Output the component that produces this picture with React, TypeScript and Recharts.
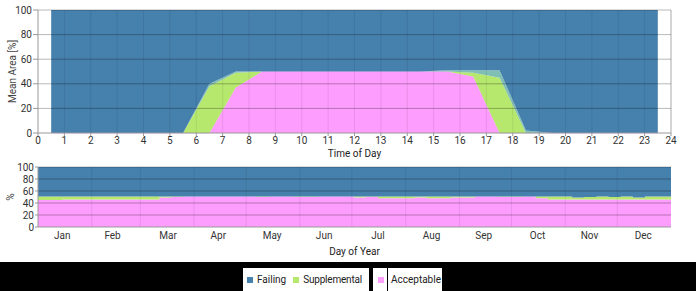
import { AreaChart, Area, XAxis, YAxis, ReferenceLine } from "recharts";

/* ---------------- COLORS ---------------- */

const BLUE = "#4680ad";
const GREEN = "#b6e86e";
const PINK = "#fd9dfd";
const TEAL = "#80bfb4";
const FONT = "Roboto, 'Noto Sans', sans-serif";

/* ---------------- TIME OF DAY DATA ---------------- */

const hours = [
  0.5, 1.5, 2.5, 3.5, 4.5, 5.5, 6.5, 7.5, 8.5, 9.5, 10.5, 11.5,
  12.5, 13.5, 14.5, 15.5, 16.5, 17.5, 18.5, 19.5, 20.5, 21.5, 22.5, 23.5
];
const hourAcceptable = [0, 0, 0, 0, 0, 0, 0, 37, 50, 50, 50, 50, 50, 50, 50, 50, 46, 0, 0, 0, 0, 0, 0, 0];
const hourSupplemental = [0, 0, 0, 0, 0, 0, 38, 12, 0, 0, 0, 0, 0, 0, 0, 0, 3, 45, 0, 0, 0, 0, 0, 0];
const hourOverlap = [0, 0, 0, 0, 0, 0, 2, 1, 0, 0, 0, 0, 0, 0, 0, 1, 2, 6, 2, 0, 0, 0, 0, 0];
const hourFailing = [100, 100, 100, 100, 100, 100, 60, 50, 50, 50, 50, 50, 50, 50, 50, 49, 49, 49, 98, 100, 100, 100, 100, 100];

const hourTicks = [0, 1, 2, 3, 4, 5, 6, 7, 8, 9, 10, 11, 12, 13, 14, 15, 16, 17, 18, 19, 20, 21, 22, 23, 24];
const percentTicks = [0, 20, 40, 60, 80, 100];

/* ---------------- DAY OF YEAR DATA (weekly) ---------------- */

const weekStartDays = [
  0, 7, 14, 21, 28, 35, 42, 49, 56, 63, 70, 77, 84, 91, 98, 105, 112, 119,
  126, 133, 140, 147, 154, 161, 168, 175, 182, 189, 196, 203, 210, 217, 224,
  231, 238, 245, 252, 259, 266, 273, 280, 287, 294, 301, 308, 315, 322, 329,
  336, 343, 350, 357, 365
];
const weekAcceptable = [
  45, 45, 46, 46, 46, 46, 46, 46, 46, 46, 49, 50, 51, 51, 51, 51, 51, 51,
  50, 51, 51, 50, 50, 51, 51, 51, 49, 50, 48, 48, 48, 49, 48, 48, 49, 49,
  51, 51, 50, 50, 51, 48, 46, 46, 46, 46, 46, 46, 46, 46, 46, 46
];
const weekSupplemental = [
  6, 6, 5, 5, 5, 5, 5, 5, 5, 5, 2, 1, 0, 0, 0, 0, 0, 0,
  1, 0, 0, 1, 1, 0, 0, 0, 2, 1, 3, 3, 3, 2, 3, 3, 2, 2,
  0, 0, 1, 1, 0, 3, 5, 5, 3, 4, 5, 4, 5, 3, 5, 5
];
const weekFailing = [
  49, 49, 49, 49, 49, 49, 49, 49, 49, 49, 49, 49, 49, 49, 49, 49, 49, 49,
  49, 49, 49, 49, 49, 49, 49, 49, 49, 49, 49, 49, 49, 49, 49, 49, 49, 49,
  49, 49, 49, 49, 49, 49, 49, 49, 51, 50, 49, 50, 49, 51, 49, 49
];

const monthNames = ["Jan", "Feb", "Mar", "Apr", "May", "Jun", "Jul", "Aug", "Sep", "Oct", "Nov", "Dec"];
const monthMidDays = [14, 43, 75, 104, 135, 165, 196, 227, 257, 288, 318, 349];
const monthStartDays = [31, 59, 90, 120, 151, 181, 212, 243, 273, 304, 334];

/* ---------------- TABLES ---------------- */

const hourData = hours.map((h, i) => ({
  hour: h,
  acceptable: hourAcceptable[i],
  supplemental: hourSupplemental[i],
  overlap: hourOverlap[i],
  failing: hourFailing[i]
}));

const dayData = weekStartDays.map((d, i) => {
  const k = Math.min(i, weekAcceptable.length - 1);
  return {
    day: d,
    acceptable: weekAcceptable[k],
    supplemental: weekSupplemental[k],
    failing: weekFailing[k]
  };
});

const tickStyle = { fontSize: 10, fill: "#333", fontFamily: FONT };

/* ---------------- LEGEND ---------------- */

function Swatch({ color }: { color: string }) {
  return (
    <span
      style={{
        display: "inline-block",
        width: 6,
        height: 6,
        background: color,
        marginRight: 4,
        verticalAlign: "middle"
      }}
    />
  );
}

function Legend() {
  const text = { fontSize: 10, color: "#222", fontFamily: FONT, verticalAlign: "middle", whiteSpace: "nowrap" } as const;
  return (
    <div style={{ position: "relative", width: 696, height: 29, background: "#000" }}>
      <div
        style={{
          position: "absolute", left: 243, top: 6, width: 126, height: 23,
          background: "#fff", display: "flex", alignItems: "center", paddingLeft: 4, boxSizing: "border-box"
        }}
      >
        <Swatch color={BLUE} />
        <span style={{ ...text, marginRight: 7 }}>Failing</span>
        <Swatch color={GREEN} />
        <span style={{ ...text, letterSpacing: -0.2 }}>Supplemental</span>
      </div>
      <div
        style={{
          position: "absolute", left: 373, top: 6, width: 69, height: 23,
          background: "#fff", display: "flex", alignItems: "center", paddingLeft: 5, boxSizing: "border-box"
        }}
      >
        <Swatch color={PINK} />
        <span style={{ width: 1, height: 23, background: "#000", marginRight: 3, marginLeft: -1 }} />
        <span style={text}>Acceptable</span>
      </div>
    </div>
  );
}

/* ---------------- COMPONENT ---------------- */

export default function App() {
  return (
    <div style={{ width: 696, background: "#fff" }}>
      <style>{"body{margin:0}"}</style>

      {/* TIME OF DAY */}
      <AreaChart width={696} height={160} data={hourData} margin={{ top: 10, right: 25, bottom: 0, left: 8 }}>
        <XAxis
          type="number"
          dataKey="hour"
          domain={[0, 24]}
          ticks={hourTicks}
          interval={0}
          tick={tickStyle}
          tickSize={3}
          tickMargin={1}
          stroke="#999"
          height={27}
          label={{ value: "Time of Day", position: "insideBottom", offset: 3, style: { ...tickStyle, fill: "#222" } }}
        />
        <YAxis
          type="number"
          domain={[0, 100]}
          ticks={percentTicks}
          interval={0}
          tick={tickStyle}
          tickSize={5}
          tickMargin={1}
          stroke="#999"
          width={30}
          label={{ value: "Mean Area [%]", angle: -90, position: "insideLeft", offset: 4, style: { ...tickStyle, fill: "#444", textAnchor: "middle" } }}
        />
        <Area type="linear" dataKey="acceptable" stackId="t" fill={PINK} stroke={PINK} strokeWidth={0.5} fillOpacity={1} isAnimationActive={false} />
        <Area type="linear" dataKey="supplemental" stackId="t" fill={GREEN} stroke="none" fillOpacity={1} isAnimationActive={false} />
        <Area type="linear" dataKey="overlap" stackId="t" fill={TEAL} stroke="none" fillOpacity={1} isAnimationActive={false} />
        <Area type="linear" dataKey="failing" stackId="t" fill={BLUE} stroke="none" fillOpacity={1} isAnimationActive={false} />
        {hourTicks.slice(1, 24).map(h => (
          <ReferenceLine key={"h" + h} x={h} stroke="#000" strokeOpacity={0.08} />
        ))}
        <ReferenceLine x={24} stroke="#aaa" />
        {percentTicks.slice(1).map(p => (
          <ReferenceLine key={"p" + p} y={p} stroke="#000" strokeOpacity={0.28} />
        ))}
      </AreaChart>

      {/* DAY OF YEAR */}
      <AreaChart width={696} height={102} data={dayData} margin={{ top: 7, right: 25, bottom: 0, left: 8 }}>
        <XAxis
          type="number"
          dataKey="day"
          domain={[0, 365]}
          ticks={monthMidDays}
          interval={0}
          tickFormatter={(v: number) => monthNames[monthMidDays.indexOf(v)]}
          tick={tickStyle}
          tickSize={0}
          tickMargin={5}
          stroke="#999"
          height={35}
          label={{ value: "Day of Year", position: "insideBottom", offset: 7, style: { ...tickStyle, fill: "#222" } }}
        />
        <YAxis
          type="number"
          domain={[0, 100]}
          ticks={percentTicks}
          interval={0}
          tick={tickStyle}
          tickSize={3}
          tickMargin={1}
          stroke="#999"
          width={30}
          label={{ value: "%", angle: -90, position: "insideLeft", offset: 2, style: { ...tickStyle, fill: "#444", textAnchor: "middle" } }}
        />
        <Area type="stepAfter" dataKey="acceptable" stackId="d" fill={PINK} stroke="none" fillOpacity={1} isAnimationActive={false} />
        <Area type="stepAfter" dataKey="supplemental" stackId="d" fill={GREEN} stroke="none" fillOpacity={1} isAnimationActive={false} />
        <Area type="stepAfter" dataKey="failing" stackId="d" fill={BLUE} stroke="none" fillOpacity={1} isAnimationActive={false} />
        {monthStartDays.map(d => (
          <ReferenceLine key={"m" + d} x={d} stroke="#000" strokeOpacity={0.08} />
        ))}
        {percentTicks.slice(1).map(p => (
          <ReferenceLine key={"q" + p} y={p} stroke="#000" strokeOpacity={0.28} />
        ))}
      </AreaChart>

      <Legend />
    </div>
  );
}
